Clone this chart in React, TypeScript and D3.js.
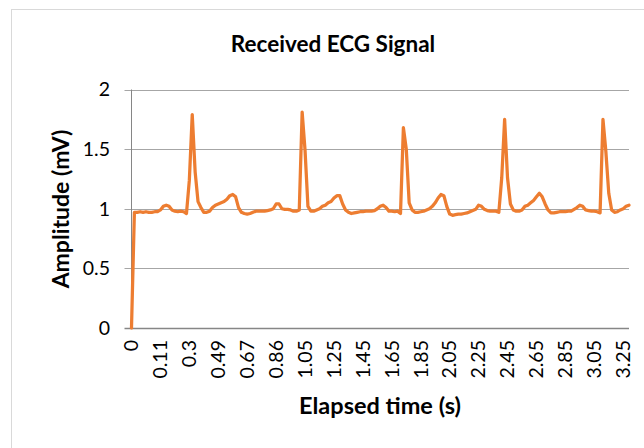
import React from "react";
import { scaleLinear, scalePoint, line, range } from "d3";

// amplitude (mV) for each sample
const amplitude = [
  0, 0.97, 0.97, 0.975, 0.97, 0.975, 0.97, 0.97, 0.975, 0.975,
  0.99, 1.02, 1.03, 1.02, 0.99, 0.98, 0.975, 0.98, 0.975, 0.96,
  1.24, 1.79, 1.31, 1.06, 1.01, 0.97, 0.97, 0.98, 1.01, 1.03,
  1.04, 1.05, 1.06, 1.08, 1.11, 1.12, 1.1, 1.01, 0.97, 0.96,
  0.955, 0.96, 0.97, 0.98, 0.98, 0.98, 0.98, 0.985, 0.99, 1.0,
  1.04, 1.04, 1.0, 0.995, 0.995, 0.99, 0.98, 0.98, 0.99, 1.81,
  1.49, 1.02, 0.98, 0.98, 0.99, 1.0, 1.02, 1.03, 1.05, 1.06,
  1.09, 1.11, 1.11, 1.04, 0.99, 0.97, 0.96, 0.965, 0.97, 0.975,
  0.975, 0.98, 0.98, 0.98, 0.985, 1.0, 1.02, 1.03, 1.01, 0.98,
  0.98, 0.975, 0.98, 0.96, 1.68, 1.5, 1.05, 0.99, 0.97, 0.97,
  0.975, 0.98, 0.99, 1.0, 1.02, 1.05, 1.09, 1.12, 1.11, 1.02,
  0.955, 0.945, 0.95, 0.955, 0.955, 0.96, 0.965, 0.975, 0.985, 0.995,
  1.03, 1.02, 0.995, 0.985, 0.98, 0.98, 0.98, 0.97, 1.26, 1.75,
  1.26, 1.04, 0.99, 0.98, 0.98, 0.99, 1.02, 1.03, 1.05, 1.07,
  1.1, 1.13, 1.1, 1.04, 0.99, 0.965, 0.965, 0.97, 0.975, 0.975,
  0.975, 0.98, 0.98, 0.995, 1.01, 1.03, 1.02, 0.99, 0.985, 0.98,
  0.98, 0.975, 0.965, 1.75, 1.48, 1.13, 0.99, 0.97, 0.975, 0.99,
  1.0, 1.02, 1.03,
];

// category labels shown every 10th sample
const timeLabels = [
  "0", "0.11", "0.3", "0.49", "0.67", "0.86", "1.05", "1.25", "1.45",
  "1.65", "1.85", "2.05", "2.25", "2.45", "2.65", "2.85", "3.05", "3.25",
];
const labelStep = 10;

const yTicks = [0, 0.5, 1, 1.5, 2];

const W = 644;
const H = 448;
const plot = { left: 131.5, right: 629, top: 89.5, bottom: 328 };
const font = "Lato, 'Open Sans', sans-serif";

export default function App() {
  const x = scalePoint<number>()
    .domain(range(amplitude.length))
    .range([plot.left, plot.right]);
  const y = scaleLinear().domain([0, 2]).range([plot.bottom, plot.top]);

  const path = line<number>()
    .x((_, i) => x(i) ?? 0)
    .y((d) => y(d))(amplitude);

  return (
    <svg
      width={W}
      height={H}
      style={{ position: "absolute", left: 0, top: 0, background: "#fff" }}
      fontFamily={font}
    >
      <rect x={11.5} y={9.5} width={700} height={500} fill="#fff" stroke="#d9d9d9" />

      <text x={333} y={52} textAnchor="middle" fontSize={22.5} fontWeight="bold" fill="#000">
        Received ECG Signal
      </text>

      {yTicks.map((t) => (
        <g key={t}>
          <line
            x1={plot.left - 7}
            x2={plot.right}
            y1={Math.round(y(t)) + 0.5}
            y2={Math.round(y(t)) + 0.5}
            stroke={t === 0 ? "#868686" : "#a6a6a6"}
            strokeWidth={t === 0 ? 1.5 : 1}
          />
          <text x={110} y={y(t)} dy="0.35em" textAnchor="end" fontSize={19.5} fill="#000">
            {t}
          </text>
        </g>
      ))}
      <line x1={plot.left} x2={plot.left} y1={plot.top} y2={plot.bottom} stroke="#868686" />

      {timeLabels.map((l, i) => {
        const px = x(i * labelStep) ?? 0;
        return (
          <text
            key={l}
            transform={`translate(${px},340) rotate(-90)`}
            textAnchor="end"
            dy="0.35em"
            fontSize={19.5}
            fill="#000"
          >
            {l}
          </text>
        );
      })}

      <path
        d={path ?? ""}
        fill="none"
        stroke="#ed7d31"
        strokeWidth={3.25}
        strokeLinejoin="round"
        strokeLinecap="round"
      />

      <text x={380} y={414} textAnchor="middle" fontSize={23.5} fontWeight="bold" fill="#000">
        Elapsed time (s)
      </text>
      <text
        transform="translate(69,209) rotate(-90)"
        textAnchor="middle"
        fontSize={23}
        fontWeight="bold"
        fill="#000"
      >
        Amplitude (mV)
      </text>
    </svg>
  );
}
